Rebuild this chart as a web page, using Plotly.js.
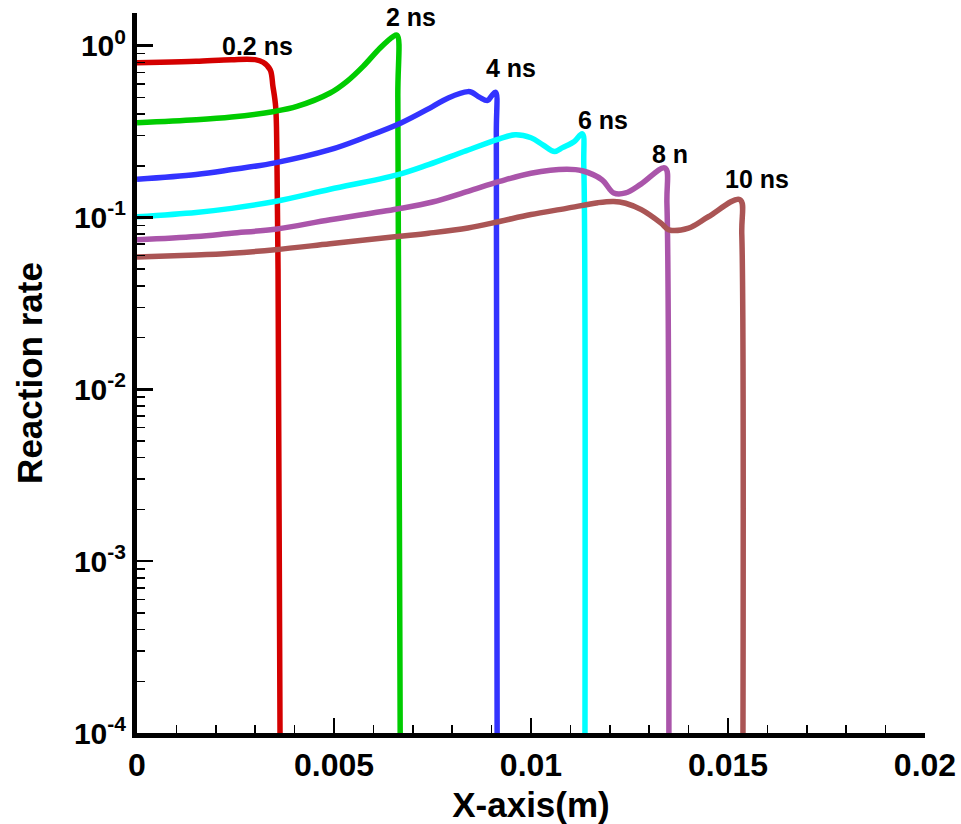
<!DOCTYPE html>
<html>
<head>
<meta charset="utf-8">
<script src="https://cdn.plot.ly/plotly-3.0.1.min.js"></script>
<style>
  html, body { margin: 0; padding: 0; background: #fff; }
  #chart { width: 961px; height: 824px; }
</style>
</head>
<body>
<div id="chart"></div>
<script>
// Reaction-rate profiles along the domain at successive times
const labels = ['0.2 ns', '2 ns', '4 ns', '6 ns', '8 n', '10 ns'];
const colors = ['#d40000', '#00cc00', '#3333ff', '#00ffff', '#aa55aa', '#aa5555'];

const x02 = [0, 0.0006, 0.0015, 0.0024, 0.0030, 0.0032, 0.00338, 0.00345, 0.00352, 0.00355, 0.00358, 0.00363];
const y02 = [0.796, 0.80, 0.81, 0.829, 0.829, 0.80, 0.725, 0.58, 0.44, 0.24, 0.05, 0.0001];

const x2 = [0, 0.0015, 0.0024, 0.00348, 0.00406, 0.0049, 0.00533, 0.00574, 0.00617, 0.0065, 0.0066, 0.00662, 0.00668];
const y2 = [0.356, 0.370, 0.384, 0.414, 0.443, 0.53, 0.62, 0.758, 0.97, 1.13, 1.15, 0.5, 0.0001];

const x4 = [0, 0.0015, 0.0024, 0.0035, 0.0049, 0.00574, 0.0067, 0.0075, 0.0079, 0.0084, 0.0085, 0.0087, 0.0089, 0.0090, 0.0091, 0.00912, 0.00914];
const y4 = [0.167, 0.178, 0.19, 0.208, 0.248, 0.29, 0.355, 0.442, 0.496, 0.54, 0.535, 0.50, 0.48, 0.51, 0.535, 0.3, 0.0001];

const x6 = [0, 0.0015, 0.0024, 0.0035, 0.0049, 0.0066, 0.0074, 0.0083, 0.0092, 0.0096, 0.0100, 0.0103, 0.0106, 0.0108, 0.0111, 0.0113, 0.01134, 0.01137];
const y6 = [0.101, 0.107, 0.113, 0.124, 0.146, 0.177, 0.203, 0.242, 0.287, 0.303, 0.291, 0.265, 0.242, 0.255, 0.277, 0.307, 0.2, 0.0001];

const x8 = [0, 0.0015, 0.0024, 0.0035, 0.0049, 0.0066, 0.0075, 0.0084, 0.0092, 0.0100, 0.0109, 0.0113, 0.0118, 0.0121, 0.0124, 0.0128, 0.0134, 0.01345, 0.0135];
const y8 = [0.0741, 0.0775, 0.081, 0.0855, 0.097, 0.112, 0.123, 0.142, 0.162, 0.181, 0.191, 0.187, 0.166, 0.139, 0.139, 0.157, 0.194, 0.12, 0.0001];

const x10 = [0, 0.0015, 0.0024, 0.0035, 0.0049, 0.0066, 0.0074, 0.0084, 0.0092, 0.0100, 0.0109, 0.0117, 0.0121, 0.0124, 0.0128, 0.0133, 0.0135, 0.0140, 0.0145, 0.0153, 0.01535, 0.01538];
const y10 = [0.0588, 0.0605, 0.062, 0.0649, 0.0703, 0.0775, 0.081, 0.0868, 0.0948, 0.104, 0.113, 0.122, 0.124, 0.121, 0.111, 0.0927, 0.0848, 0.0868, 0.101, 0.127, 0.08, 0.0001];

const xs = [x02, x2, x4, x6, x8, x10];
const ys = [y02, y2, y4, y6, y8, y10];

// label anchor points (x in metres, y in log10 units)
const labelX = [0.00305, 0.00695, 0.00949, 0.01183, 0.01353, 0.01574];
const labelY = [0.0, 0.166, -0.131, -0.434, -0.632, -0.775];

const yTickVals = [1e-4, 1e-3, 1e-2, 1e-1, 1];
const yTickText = ['10<sup>-4</sup>', '10<sup>-3</sup>', '10<sup>-2</sup>', '10<sup>-1</sup>', '10<sup>0</sup>'];

const yMinor = [];
for (let d = -4; d <= -1; d++) {
  for (let k = 2; k <= 9; k++) yMinor.push(k * Math.pow(10, d));
}

const FONT = 'Liberation Sans, Arial, Helvetica, sans-serif';

const traces = xs.map((xv, i) => ({
  type: 'scatter',
  mode: 'lines',
  x: xv,
  y: ys[i],
  name: labels[i],
  line: { color: colors[i], width: 5.5, shape: 'spline', smoothing: 1 },
  showlegend: false,
  hoverinfo: 'skip'
}));

const annotations = labels.map((t, i) => ({
  x: labelX[i], y: labelY[i], xref: 'x', yref: 'y',
  text: t, showarrow: false,
  font: { family: FONT, size: 25, color: '#000', weight: 'bold' },
  xanchor: 'center', yanchor: 'middle'
}));

const layout = {
  width: 961, height: 824,
  margin: { l: 137, r: 36, t: 13, b: 91 },
  paper_bgcolor: '#fff', plot_bgcolor: '#fff',
  font: { family: FONT, color: '#000', weight: 'bold' },
  xaxis: {
    range: [0, 0.02],
    tickmode: 'linear', tick0: 0, dtick: 0.005,
    ticks: 'inside', ticklen: 15, tickwidth: 2.5, tickcolor: '#000',
    minor: { ticks: 'inside', dtick: 0.001, ticklen: 8, tickwidth: 1.5, tickcolor: '#000', showgrid: false },
    showline: true, linewidth: 5, linecolor: '#000', mirror: false,
    showgrid: false, zeroline: false,
    tickfont: { family: FONT, size: 32, color: '#000', weight: 'bold' },
    title: { text: 'X-axis(m)', font: { family: FONT, size: 35, color: '#000', weight: 'bold' }, standoff: 14 }
  },
  yaxis: {
    type: 'log',
    range: [-4, 0.19],
    tickmode: 'array', tickvals: yTickVals, ticktext: yTickText,
    ticks: 'inside', ticklen: 16, tickwidth: 2.5, tickcolor: '#000',
    minor: { ticks: 'inside', tickmode: 'array', tickvals: yMinor, ticklen: 8, tickwidth: 1.5, tickcolor: '#000', showgrid: false },
    showline: true, linewidth: 5, linecolor: '#000', mirror: false,
    showgrid: false, zeroline: false,
    tickfont: { family: FONT, size: 30, color: '#000', weight: 'bold' },
    title: { text: 'Reaction rate', font: { family: FONT, size: 35, color: '#000', weight: 'bold' }, standoff: 22 }
  },
  annotations: annotations,
  showlegend: false
};

Plotly.newPlot('chart', traces, layout, { displayModeBar: false, staticPlot: true });
</script>
</body>
</html>
